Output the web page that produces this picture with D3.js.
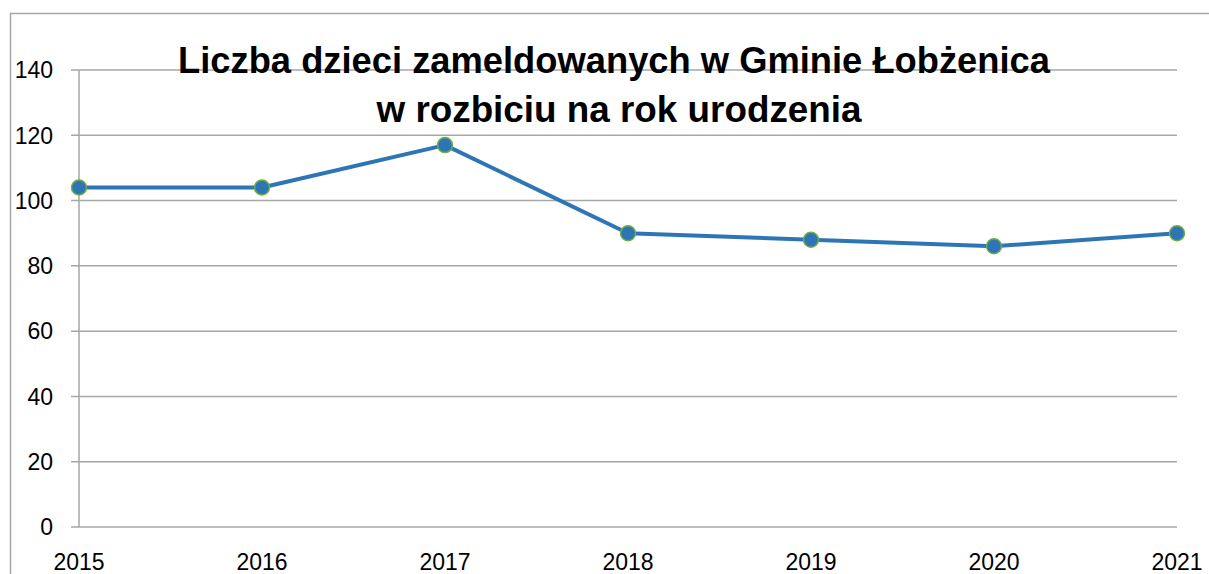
<!DOCTYPE html>
<html><head><meta charset="utf-8">
<script src="https://cdn.jsdelivr.net/npm/d3@7"></script>
<style>body{margin:0;background:#fff}svg{display:block}</style>
</head><body>
<svg id="c" width="1209" height="574"></svg>
<script>
const years = ["2015","2016","2017","2018","2019","2020","2021"];
const counts = [104, 104, 117, 90, 88, 86, 90];
const yTicks = [0, 20, 40, 60, 80, 100, 120, 140];
const titleLines = ["Liczba dzieci zameldowanych w Gminie Łobżenica", "w rozbiciu na rok urodzenia"];

const svg = d3.select("#c");
const font = "'Liberation Sans', Arial, sans-serif";
// outer border
svg.append("rect").attr("x",10.5).attr("y",13.5).attr("width",1250).attr("height",600)
  .attr("fill","none").attr("stroke","#a6a6a6").attr("stroke-width",1.5);

const x = d3.scalePoint().domain(years).range([79,1177]);
const y = d3.scaleLinear().domain([0,140]).range([527,70]);

// gridlines
svg.append("g").selectAll("line").data(yTicks).join("line")
  .attr("x1",71).attr("x2",1177).attr("y1",d=>y(d)).attr("y2",d=>y(d))
  .attr("stroke","#a6a6a6").attr("stroke-width",1.5);
// y axis line
svg.append("line").attr("x1",79).attr("x2",79).attr("y1",y(140)).attr("y2",y(0))
  .attr("stroke","#a6a6a6").attr("stroke-width",1.5);

// y labels
svg.append("g").selectAll("text").data(yTicks).join("text")
  .attr("x",53).attr("y",d=>y(d)).attr("dy","0.36em").attr("text-anchor","end")
  .attr("font-family",font).attr("font-size",23).attr("fill","#000").text(d=>d);
// x labels
svg.append("g").selectAll("text").data(years).join("text")
  .attr("x",d=>x(d)).attr("y",570).attr("text-anchor","middle")
  .attr("font-family",font).attr("font-size",23).attr("fill","#000").text(d=>d);

// line
const line = d3.line().x((d,i)=>x(years[i])).y(d=>y(d));
svg.append("path").datum(counts).attr("d",line).attr("fill","none")
  .attr("stroke","#2e75b6").attr("stroke-width",4).attr("stroke-linejoin","round");
svg.append("g").selectAll("circle").data(counts).join("circle")
  .attr("cx",(d,i)=>x(years[i])).attr("cy",d=>y(d)).attr("r",7.5)
  .attr("fill","#2e75b6").attr("stroke","#70ad47").attr("stroke-width",1.5);

// title
const tw = [872, 485];
const tx = [614, 619];
const ty = [73, 122];
svg.append("g").selectAll("text").data(titleLines).join("text")
  .attr("x",(d,i)=>tx[i]).attr("y",(d,i)=>ty[i]).attr("text-anchor","middle")
  .attr("font-family",font).attr("font-weight","bold").attr("font-size",37)
  .attr("textLength",(d,i)=>tw[i]).attr("lengthAdjust","spacingAndGlyphs")
  .attr("fill","#000").text(d=>d);
</script>
</body></html>
